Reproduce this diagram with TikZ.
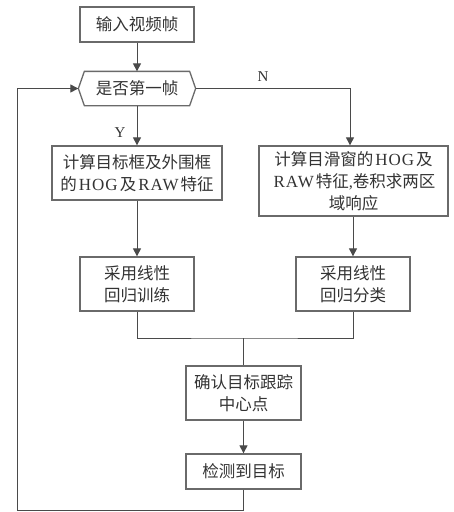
\documentclass[tikz,border=0pt]{standalone}
\usepackage{fontspec}
\setmainfont{Liberation Serif}
\newfontfamily\cjk{Noto Sans CJK SC}
\newfontfamily\latwide[LetterSpace=6]{Liberation Serif}
\newcommand{\lat}[1]{\hspace{2pt}{\latwide\fontsize{17}{22}\selectfont #1}\hspace{2pt}}
\usetikzlibrary{arrows.meta}
\definecolor{linec}{HTML}{4A4A4A}
\definecolor{boxc}{HTML}{6A6A6A}
\definecolor{txtc}{HTML}{333333}
\begin{document}
\begin{tikzpicture}[x=1pt,y=-1pt,
  box/.style={draw=boxc,line width=1.3pt,rectangle,inner sep=0pt,align=center,text=txtc,
    font=\fontsize{16.5}{22}\selectfont\cjk},
  conn/.style={draw=linec,line width=1pt},
  arr/.style={conn,-{Triangle[length=8pt,width=8pt]}},
  lbl/.style={text=txtc,font=\fontsize{15}{18}\selectfont}]
\useasboundingbox (0,0) rectangle (454,512);
\node[box,minimum width=114pt,minimum height=35pt] (in) at (137,24.5) {输入视频帧};
\node[box,draw=none,minimum width=116pt,minimum height=33pt] (hex) at (137,88.5) {是否第一帧};
\draw[draw=boxc,line width=1.3pt] ([xshift=6pt]hex.north west) -- ([xshift=-6pt]hex.north east) -- (hex.east)
  -- ([xshift=-6pt]hex.south east) -- ([xshift=6pt]hex.south west) -- (hex.west) -- cycle;
\node[box,minimum width=170pt,minimum height=54pt] (l1) at (137,173) {计算目标框及外围框\\的\lat{HOG}及\lat{RAW}特征};
\node[box,minimum width=189pt,minimum height=70pt] (r1) at (353.5,181) {计算目滑窗的\lat{HOG}及\\\lat{RAW}特征{\rmfamily ,}卷积求两区\\域响应};
\node[box,minimum width=114pt,minimum height=54pt] (l2) at (137,284) {采用线性\\回归训练};
\node[box,minimum width=114pt,minimum height=54pt] (r2) at (353,284) {采用线性\\回归分类};
\node[box,minimum width=115pt,minimum height=54pt] (c) at (243.5,393) {确认目标跟踪\\中心点};
\node[box,minimum width=115pt,minimum height=35pt] (d) at (243.5,471.5) {检测到目标};
\coordinate (nc) at (350,88.5);
\coordinate (mg) at (243.5,338);
\coordinate (lb) at (17,510);
\draw[arr] (in) -- (hex);
\draw[arr] (hex.south) -- (l1.north);
\draw[arr] (hex.east) -- (nc) -- (nc |- r1.north);
\draw[arr] (l1) -- (l2);
\draw[arr] (r1.south -| r2) -- (r2.north);
\draw[conn] (l2.south) |- (mg) -| (r2.south);
\draw[conn] (mg) -- (c.north);
\draw[arr] (c) -- (d);
\draw[arr] (d.south) |- (lb) |- (hex.west);
\node[lbl] (ylab) at (120,133) {Y};
\node[lbl] (nlab) at (263,77) {N};
\end{tikzpicture}
\end{document}
